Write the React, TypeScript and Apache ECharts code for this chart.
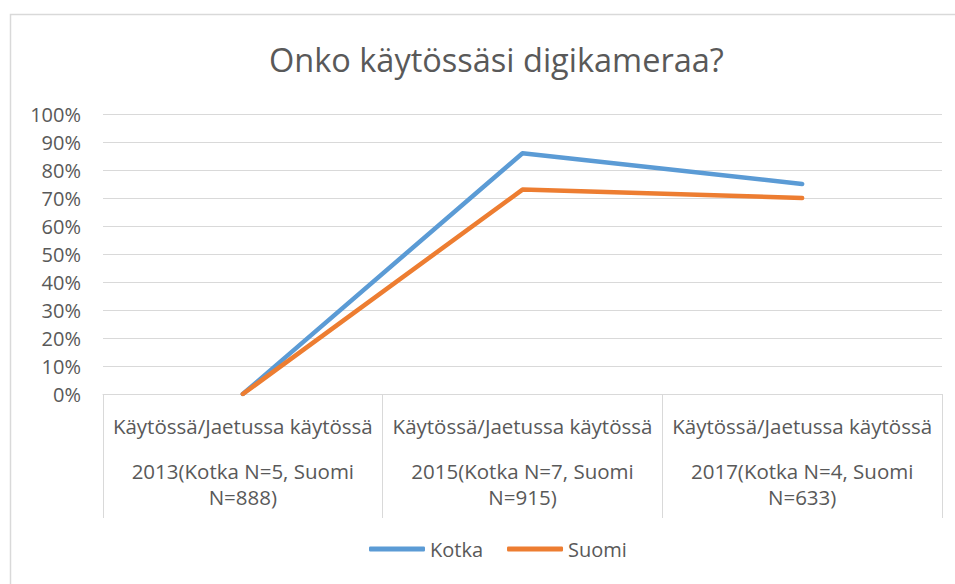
import React, { useEffect, useRef } from "react";
import * as echarts from "echarts";

const categoryTop = ["Käytössä/Jaetussa käytössä", "Käytössä/Jaetussa käytössä", "Käytössä/Jaetussa käytössä"];
const categoryYear = ["2013(Kotka N=5, Suomi", "2015(Kotka N=7, Suomi", "2017(Kotka N=4, Suomi"];
const categoryN = ["N=888)", "N=915)", "N=633)"];
const kotka = [0, 0.86, 0.75];
const suomi = [0, 0.73, 0.70];
const seriesNames = ["Kotka", "Suomi"];

const FONT = "'Open Sans', sans-serif";
const TXT = "#595959";

export default function App() {
  const ref = useRef<HTMLDivElement>(null);
  useEffect(() => {
    const chart = echarts.init(ref.current!, null, { renderer: "svg" });
    const cats = categoryTop.map((t, i) => `${t}|${categoryYear[i]}|${categoryN[i]}`);
    chart.setOption({
      animation: false,
      backgroundColor: "#ffffff",
      textStyle: { fontFamily: FONT },
      graphic: [
        {
          type: "rect",
          shape: { x: 10.5, y: 14.5, width: 1000, height: 700 },
          style: { fill: "none", stroke: "#d9d9d9", lineWidth: 1.5 },
          silent: true,
        },
      ],
      title: {
        text: "Onko käytössäsi digikameraa?",
        left: 264,
        top: 38,
        textStyle: { fontFamily: FONT, fontSize: 32.5, fontWeight: "normal", color: TXT },
      },
      legend: {
        bottom: 20,
        left: 364,
        icon: "roundRect",
        itemWidth: 56,
        itemHeight: 5,
        itemGap: 24,
        textStyle: { fontFamily: FONT, fontSize: 20, color: TXT },
        data: seriesNames,
      },
      grid: { left: 103, right: 13, top: 114, bottom: 190, containLabel: false },
      xAxis: {
        type: "category",
        data: cats,
        boundaryGap: true,
        axisLine: { show: true, lineStyle: { color: "#d9d9d9", width: 1 } },
        axisTick: { show: true, interval: 0, length: 124, alignWithLabel: false, lineStyle: { color: "#d9d9d9", width: 1 } },
        axisLabel: {
          interval: 0,
          margin: 0,
          fontSize: 20,
          color: TXT,
          formatter: (v: string) => {
            const p = v.split("|");
            return `{a|${p[0]}}\n{b|${p[1]}}\n{b|${p[2]}}`;
          },
          rich: {
            a: { fontFamily: FONT, fontSize: 20.5, color: TXT, lineHeight: 64 },
            b: { fontFamily: FONT, fontSize: 20.5, color: TXT, lineHeight: 26 },
          },
        },
      },
      yAxis: {
        type: "value",
        min: 0,
        max: 1,
        interval: 0.1,
        axisLine: { show: false },
        axisTick: { show: false },
        splitLine: { lineStyle: { color: "#d9d9d9", width: 1 } },
        axisLabel: {
          fontFamily: FONT,
          fontSize: 20,
          color: TXT,
          margin: 22,
          formatter: (v: number) => `${Math.round(v * 100)}%`,
        },
      },
      series: [
        {
          name: seriesNames[0],
          type: "line",
          data: kotka,
          symbol: "none",
          lineStyle: { color: "#5B9BD5", width: 4.5, cap: "round", join: "round" },
          itemStyle: { color: "#5B9BD5" },
        },
        {
          name: seriesNames[1],
          type: "line",
          data: suomi,
          symbol: "none",
          lineStyle: { color: "#ED7D31", width: 4.5, cap: "round", join: "round" },
          itemStyle: { color: "#ED7D31" },
        },
      ],
    });
    return () => chart.dispose();
  }, []);
  return (
    <div
      ref={ref}
      style={{ position: "fixed", left: 0, top: 0, width: 955, height: 584, background: "#fff" }}
    />
  );
}
